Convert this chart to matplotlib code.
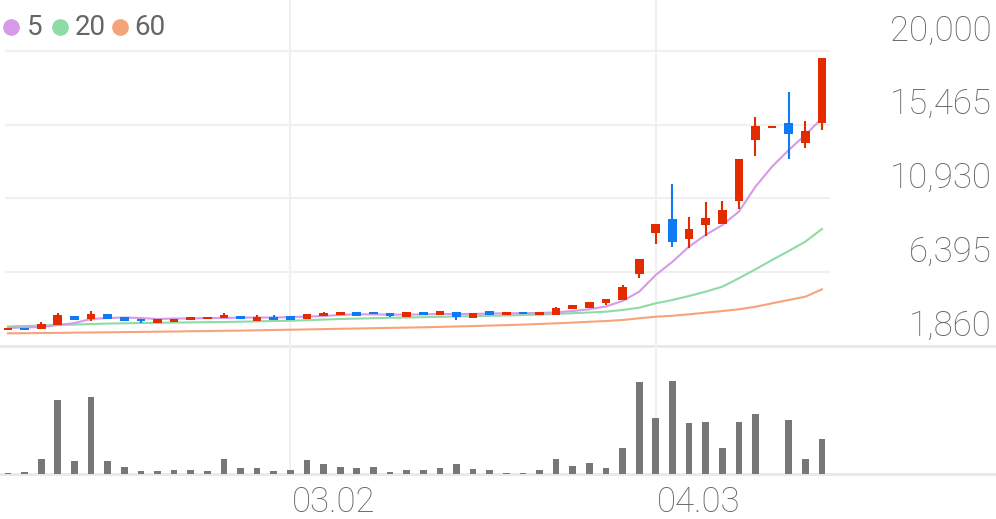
import matplotlib.pyplot as plt
from matplotlib.lines import Line2D

plt.rcParams['font.family'] = ['Roboto', 'DejaVu Sans']

# daily candles, oldest first
opens = [2905, 2990, 2905, 3150, 3705, 3520, 3830, 3645, 3520, 3275,
         3335, 3460, 3520, 3580, 3705, 3395, 3645, 3705, 3520, 3705,
         3765, 3950, 3950, 3890, 3645, 3950, 3765, 3950, 3580, 4010,
         3765, 3950, 3765, 3765, 4135, 4195, 4505, 4690, 6285, 8810,
         9670, 8440, 9300, 9360, 10775, 14525, 15325, 15570, 14340, 15570]
highs = [2967, 2990, 3335, 3890, 3705, 4010, 3830, 3645, 3520, 3520,
         3520, 3645, 3645, 3890, 3705, 3765, 3765, 3705, 3830, 3950,
         3950, 3950, 3950, 3890, 3950, 3950, 4010, 3950, 3890, 4010,
         3950, 3950, 3950, 4260, 4380, 4565, 4750, 5610, 7210, 9360,
         11820, 9790, 10715, 10775, 13360, 15940, 15325, 17480, 15695, 19570]
lows = [2905, 2920, 2905, 3150, 3460, 3395, 3520, 3395, 3275, 3275,
        3335, 3460, 3520, 3580, 3520, 3395, 3460, 3460, 3520, 3705,
        3765, 3705, 3830, 3645, 3645, 3765, 3765, 3460, 3580, 3765,
        3765, 3830, 3765, 3765, 4135, 4195, 4380, 4690, 6040, 8130,
        7950, 7885, 8625, 9360, 10285, 13545, 15325, 13360, 14035, 15140]
closes = [2967, 2920, 3215, 3765, 3460, 3830, 3520, 3395, 3395, 3520,
          3520, 3645, 3645, 3765, 3520, 3645, 3460, 3460, 3830, 3890,
          3950, 3705, 3830, 3705, 3950, 3765, 4010, 3645, 3890, 3765,
          3950, 3830, 3950, 4195, 4380, 4565, 4750, 5490, 7210, 9360,
          8255, 9055, 9730, 10225, 13360, 15390, 15325, 14895, 15080, 19570]
volumes = [1, 1.7, 15.3, 74.3, 13, 77, 13, 6.7, 3.3, 2.7,
           3.7, 3.7, 2.7, 15.3, 5.7, 6, 2.7, 4, 13.7, 9.7,
           7.3, 6.3, 6.7, 2.3, 4, 3.7, 6, 10, 4.7, 3.7,
           1.3, 1.3, 4.3, 15.3, 8.3, 10.7, 6, 26.3, 92, 56.3,
           93, 51, 52, 26, 52, 59.7, 0, 54, 15.3, 35.3]

ma5 = [2970, 3000, 3030, 3150, 3270, 3520, 3580, 3610, 3580, 3520,
       3550, 3550, 3580, 3580, 3610, 3610, 3610, 3640, 3670, 3700,
       3770, 3810, 3800, 3790, 3790, 3800, 3830, 3830, 3830, 3860,
       3870, 3880, 3890, 3930, 4010, 4120, 4290, 4630, 5200, 6230,
       7040, 7970, 8690, 9300, 10120, 11660, 12890, 13910, 14840, 15860]
ma20 = [3060, 3090, 3120, 3150, 3180, 3210, 3240, 3255, 3275, 3285,
        3300, 3310, 3325, 3335, 3355, 3375, 3395, 3415, 3445, 3485,
        3520, 3545, 3570, 3595, 3610, 3630, 3655, 3675, 3690, 3715,
        3735, 3765, 3795, 3830, 3875, 3920, 3970, 4075, 4215, 4485,
        4690, 4935, 5200, 5505, 6025, 6575, 7150, 7700, 8275, 9055]
ma60 = [2640, 2645, 2660, 2665, 2680, 2690, 2700, 2715, 2725, 2740,
        2750, 2770, 2780, 2795, 2805, 2825, 2845, 2860, 2880, 2900,
        2920, 2935, 2955, 2975, 2990, 3010, 3035, 3060, 3085, 3115,
        3145, 3175, 3215, 3255, 3300, 3350, 3395, 3460, 3565, 3660,
        3720, 3810, 3910, 4010, 4115, 4275, 4485, 4690, 4890, 5345]

price_ticks = [1860, 6395, 10930, 15465, 20000]
date_pos = [17, 39]
date_labels = ['03.02', '04.03']
ma_labels = ['5', '20', '60']

UP = '#E42B00'
DOWN = '#0E7BF2'
MA_COLORS = ['#D69AE9', '#8DDBA5', '#F6A37C']
TXT = '#666666'
GRID = '#f0f0f0'

W, H = 996, 519
fig = plt.figure(figsize=(W / 100, H / 100), dpi=100)
ax = fig.add_axes([0, 1 - 346 / H, 1, 346 / H])
axv = fig.add_axes([0, 1 - 474 / H, 1, 128 / H])
for a in (ax, axv):
    a.set_axis_off()
    a.set_xlim(-0.48, 59.48)
ax.set_ylim(1860, 23136)
axv.set_ylim(0, 128)

x = list(range(len(closes)))

# grid
ax.hlines(price_ticks[1:], -0.2, 49.5, color=GRID, lw=1.5, zorder=0)
ax.axhline(1860, color='#e8e8e8', lw=2, clip_on=False, zorder=0)
axv.axhline(0, color='#e8e8e8', lw=2, clip_on=False, zorder=0)
for p in date_pos:
    ax.axvline(p, color=GRID, lw=1.5, zorder=0)
    axv.axvline(p, color=GRID, lw=1.5, zorder=0)

# moving averages
for vals, col in zip([ma60, ma20, ma5], MA_COLORS[::-1]):
    ax.plot(x, vals, color=col, lw=1.5, zorder=2)

# candles
cols = [UP if c >= o else DOWN for o, c in zip(opens, closes)]
ax.vlines(x, lows, highs, colors=cols, lw=1.5, zorder=3)
bottoms = [min(o, c) if abs(c - o) > 110 else min(o, c) - 55 for o, c in zip(opens, closes)]
heights = [max(abs(c - o), 110) for o, c in zip(opens, closes)]
ax.bar(x, heights, width=0.52, bottom=bottoms, color=cols, zorder=4)

# volume
axv.bar(x, volumes, width=0.4, color='#777777', zorder=2)

# price labels
for v in price_ticks:
    ax.annotate(f'{v:,}', xy=(992 / W, v), xycoords=('axes fraction', 'data'),
                xytext=(0, 7.5), textcoords='offset points', ha='right',
                va='baseline', fontsize=25, color=TXT, fontweight='light',
                annotation_clip=False)

# date labels
for p, lbl in zip(date_pos, date_labels):
    axv.annotate(lbl, xy=(p, 0), xytext=(1, -27.4), textcoords='offset points',
                 ha='left', va='baseline', fontsize=25, color=TXT,
                 fontweight='light', annotation_clip=False)

# legend
for cx, tx, lbl, col in zip([10.5, 60, 120], [27, 75, 134], ma_labels, MA_COLORS):
    fig.add_artist(Line2D([cx / W], [1 - 26.5 / H], marker='o', markersize=11,
                          color=col, transform=fig.transFigure))
    fig.text(tx / W, 1 - 35 / H, lbl, fontsize=20, color=TXT, va='baseline')

fig.savefig('out.png', dpi=100, facecolor='white')
